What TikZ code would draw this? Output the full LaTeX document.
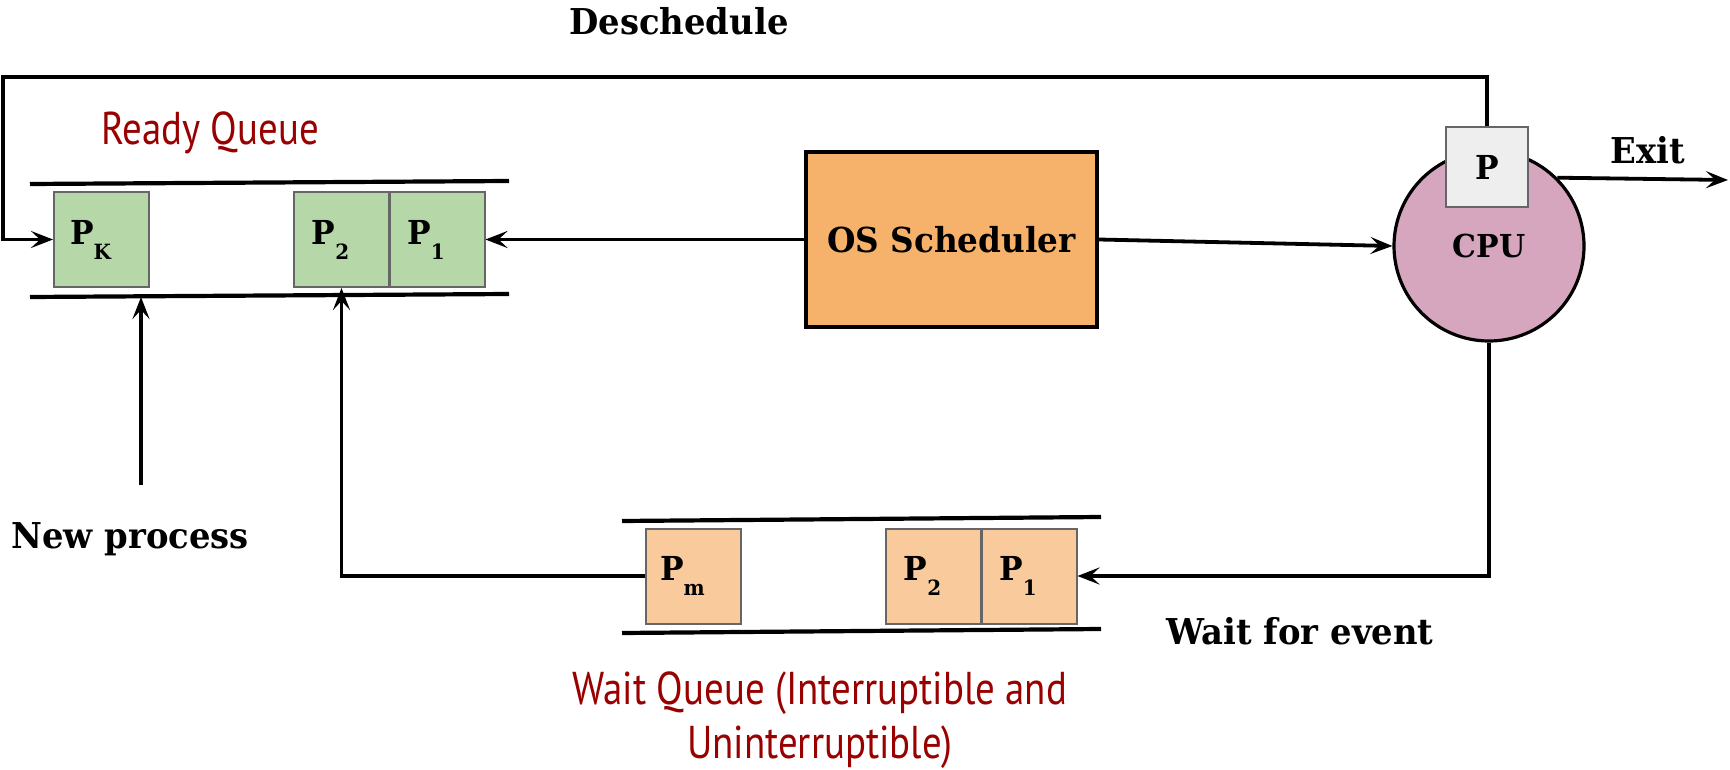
\documentclass[tikz,border=0pt]{standalone}
\usepackage{fontspec}
\setmainfont{DejaVu Serif}[FakeStretch=0.95]
\newfontfamily\redfont{PT Sans}[FakeStretch=0.845]
\usetikzlibrary{arrows.meta}
\definecolor{rgreen}{HTML}{B6D7A8}
\definecolor{worange}{HTML}{F9CB9C}
\definecolor{sorange}{HTML}{F6B26B}
\definecolor{cpupink}{HTML}{D5A6BD}
\definecolor{pgray}{HTML}{EEEEEE}
\definecolor{bgray}{HTML}{666666}
\definecolor{dred}{HTML}{990000}
\newcommand{\lbl}[1]{{\fontsize{17.8}{20}\selectfont\bfseries #1}}
\newcommand{\pp}[1]{\hspace*{-11pt}{\fontsize{16.5}{15}\selectfont\bfseries P\raisebox{-7.5pt}{\fontsize{10.5}{8}\selectfont #1}}}
\tikzset{
  qbox/.style={draw=bgray, line width=1pt, minimum width=47.5pt, minimum height=47.5pt, inner sep=0pt, anchor=center},
  rbox/.style={qbox, fill=rgreen},
  wbox/.style={qbox, fill=worange},
  conn/.style={draw, line width=1.9pt},
  arr/.style={conn, -{Stealth[length=11pt,width=8.5pt,inset=4.5pt]}},
  qline/.style={line width=2.1pt},
  redtxt/.style={text=dred, font=\redfont\fontsize{23}{27}\selectfont, align=center, inner sep=0pt},
  lbltxt/.style={inner sep=0pt},
}
\begin{document}
\begin{tikzpicture}[x=0.5pt, y=-0.5pt]
\useasboundingbox (0,0) rectangle (1730,770);
% ready queue
\draw[qline] (30,184) -- (509,181);
\draw[qline] (30,297) -- (509,294);
\coordinate (rqbot) at (30,297);
\node[rbox] (pk) at (101.5,239.5) {\pp{K}};
\node[rbox] (r2) at (341.5,239.5) {\pp{2}};
\node[rbox] (r1) at (437,239.5) {\pp{1}};
\node[redtxt] (rql) at (210,133) {Ready Queue};
% scheduler
\node[draw, line width=1.8pt, fill=sorange, minimum width=145.5pt, minimum height=87.5pt, inner sep=0pt] (sched) at (951.5,239.5)
  {{\fontsize{17.2}{20}\selectfont\bfseries OS Scheduler}};
% cpu
\node[circle, draw, line width=1.6pt, fill=cpupink, minimum size=95pt, inner sep=0pt] (cpu) at (1489,246)
  {{\fontsize{15.8}{18}\selectfont\bfseries CPU}};
\node[draw=bgray, line width=1pt, fill=pgray, minimum width=41pt, minimum height=40pt, inner sep=0pt] (pbox) at (1487,167)
  {{\fontsize{16.5}{16}\selectfont\bfseries P}};
% wait queue
\draw[qline] (622,521) -- (1101,517);
\draw[qline] (622,633) -- (1101,629);
\node[wbox] (wm) at (693.5,576) {\pp{m}};
\node[wbox] (w2) at (933.5,576) {\pp{2}};
\node[wbox] (w1) at (1029,576) {\pp{1}};
\node[redtxt] (wql) at (820,720) {Wait Queue (Interruptible and\\Uninterruptible)};
% labels
\node[lbltxt] (desch) at (679,21) {\lbl{Deschedule}};
\node[lbltxt] (exitl) at (1648,150) {\lbl{Exit}};
\node[lbltxt] (newp) at (130,539) {\lbl{New process}};
\node[lbltxt] (waitl) at (1300,631) {\lbl{Wait for event}};
% connectors
\coordinate (dtl) at (3,77);
\coordinate (exitpt) at (1728,180);
\coordinate (np) at (141,485);
\draw[arr] (sched.west) -- (r1.east);
\draw[arr] (sched.east) -- (cpu.west);
\draw[arr] (pbox.north) |- (dtl) |- (pk.west);
\draw[arr] (cpu.45) -- (exitpt);
\draw[arr] (cpu.south) |- (w1.east);
\draw[arr] (wm.west) -| (r2.south);
\draw[arr] (np) -- (np |- rqbot);
\end{tikzpicture}
\end{document}
